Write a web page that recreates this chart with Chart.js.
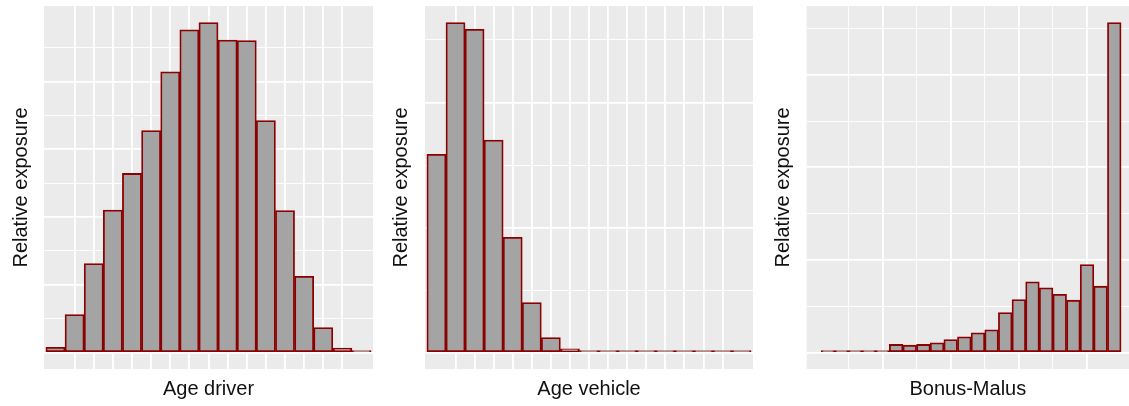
<!DOCTYPE html>
<html>
<head>
<meta charset="utf-8">
<script src="https://cdn.jsdelivr.net/npm/chart.js@4.4.0/dist/chart.umd.min.js"></script>
<style>
  html, body { margin: 0; padding: 0; background: #fff; }
  #wrap { position: relative; width: 1129px; height: 406px; overflow: hidden; }
  canvas { position: absolute; top: 0; }
</style>
</head>
<body>
<div id="wrap">
  <canvas id="chartDriver" width="380" height="406" style="left:0px"></canvas>
  <canvas id="chartVehicle" width="380" height="406" style="left:380px"></canvas>
  <canvas id="chartBonus" width="369" height="406" style="left:760px"></canvas>
</div>
<script>
// bin midpoints and relative exposure (%)
const ageDriver = [20, 25, 30, 35, 40, 45, 50, 55, 60, 65, 70, 75, 80, 85, 90, 95, 100];
const ageDriverExposure = [0.19, 1.4, 3.28, 5.26, 6.61, 8.19, 10.36, 11.91, 12.18, 11.53, 11.51, 8.56, 5.24, 2.81, 0.92, 0.16, 0.02];

const ageVehicle = [0, 1, 2, 3, 4, 5, 6, 7, 8, 9, 10, 11, 12, 13, 14, 15, 16];
const ageVehicleExposure = [15.85, 26.4, 25.85, 17.0, 9.22, 4.0, 1.2, 0.3, 0.14, 0.08, 0.06, 0.05, 0.04, 0.03, 0.025, 0.02, 0.015];

const bonusMalus = [55, 60, 65, 70, 75, 80, 85, 90, 95, 100, 105, 110, 115, 120, 125, 130, 135, 140, 145, 150, 155, 160];
const bonusMalusExposure = [0.03, 0.04, 0.055, 0.075, 0.1, 0.87, 0.79, 0.87, 1.05, 1.4, 1.7, 2.12, 2.45, 4.32, 5.72, 7.63, 6.98, 6.29, 5.65, 9.5, 7.16, 35.64];

const panelBg = {
  id: "panelBg",
  beforeDraw(chart) {
    const a = chart.chartArea;
    const ctx = chart.ctx;
    ctx.save();
    ctx.fillStyle = "#ebebeb";
    ctx.fillRect(a.left, a.top, a.right - a.left, a.bottom - a.top);
    ctx.restore();
  },
};

function onStep(v, step) {
  const r = v / step;
  return Math.abs(r - Math.round(r)) < 1e-6;
}

function gridOpts(step, majorStep) {
  return {
    drawTicks: false,
    offset: false,
    color: (c) => (c.tick && onStep(c.tick.value, step) ? "#ffffff" : "rgba(0,0,0,0)"),
    lineWidth: (c) => (c.tick && onStep(c.tick.value, majorStep) ? 1.8 : 0.9),
  };
}

function makePanel(id, bins, values, cfg) {
  const top = Math.max(...values);
  const font = { family: "'Liberation Sans', Arial, sans-serif", size: 20 };
  return new Chart(document.getElementById(id), {
    type: "bar",
    data: {
      datasets: [
        {
          data: bins.map((b, i) => ({ x: b, y: values[i] })),
          backgroundColor: "#a4a4a4",
          borderColor: "#8b0000",
          borderWidth: 1.8,
          borderSkipped: false,
          minBarLength: 2,
          barPercentage: 1,
          categoryPercentage: 1,
        },
      ],
    },
    options: {
      responsive: false,
      devicePixelRatio: 1,
      animation: false,
      layout: { padding: { left: 0, right: cfg.padRight, top: 6, bottom: 0 } },
      plugins: { legend: { display: false }, tooltip: { enabled: false } },
      scales: {
        x: {
          type: "linear",
          offset: false,
          min: cfg.xMin,
          max: cfg.xMax,
          ticks: { display: false, stepSize: cfg.xStep, maxTicksLimit: 1000 },
          grid: gridOpts(cfg.xStep, cfg.xMajor),
          border: { display: false },
          title: { display: true, text: cfg.xTitle, color: "#111", font, padding: { top: 8, bottom: 5 } },
        },
        y: {
          min: -0.05 * top,
          max: 1.05 * top,
          ticks: { display: false, stepSize: cfg.yStep, maxTicksLimit: 1000 },
          grid: gridOpts(cfg.yStep, cfg.yStep * 2),
          border: { display: false },
          title: { display: true, text: "Relative exposure", color: "#111", font, padding: cfg.yPad },
        },
      },
    },
    plugins: [panelBg],
  });
}

makePanel("chartDriver", ageDriver, ageDriverExposure, {
  xTitle: "Age driver", xMin: 17, xMax: 103, xStep: 5, xMajor: 5, yStep: 1.25,
  padRight: 7, yPad: { top: 9.4, bottom: 10.6 },
});
makePanel("chartVehicle", ageVehicle, ageVehicleExposure, {
  xTitle: "Age vehicle", xMin: -0.6, xMax: 16.6, xStep: 1, xMajor: 1, yStep: 5,
  padRight: 7, yPad: { top: 9.4, bottom: 11.6 },
});
makePanel("chartBonus", bonusMalus, bonusMalusExposure, {
  xTitle: "Bonus-Malus", xMin: 47.2, xMax: 165.4, xStep: 12.5, xMajor: 25, yStep: 5,
  padRight: 0, yPad: { top: 11, bottom: 11.7 },
});
</script>
</body>
</html>
